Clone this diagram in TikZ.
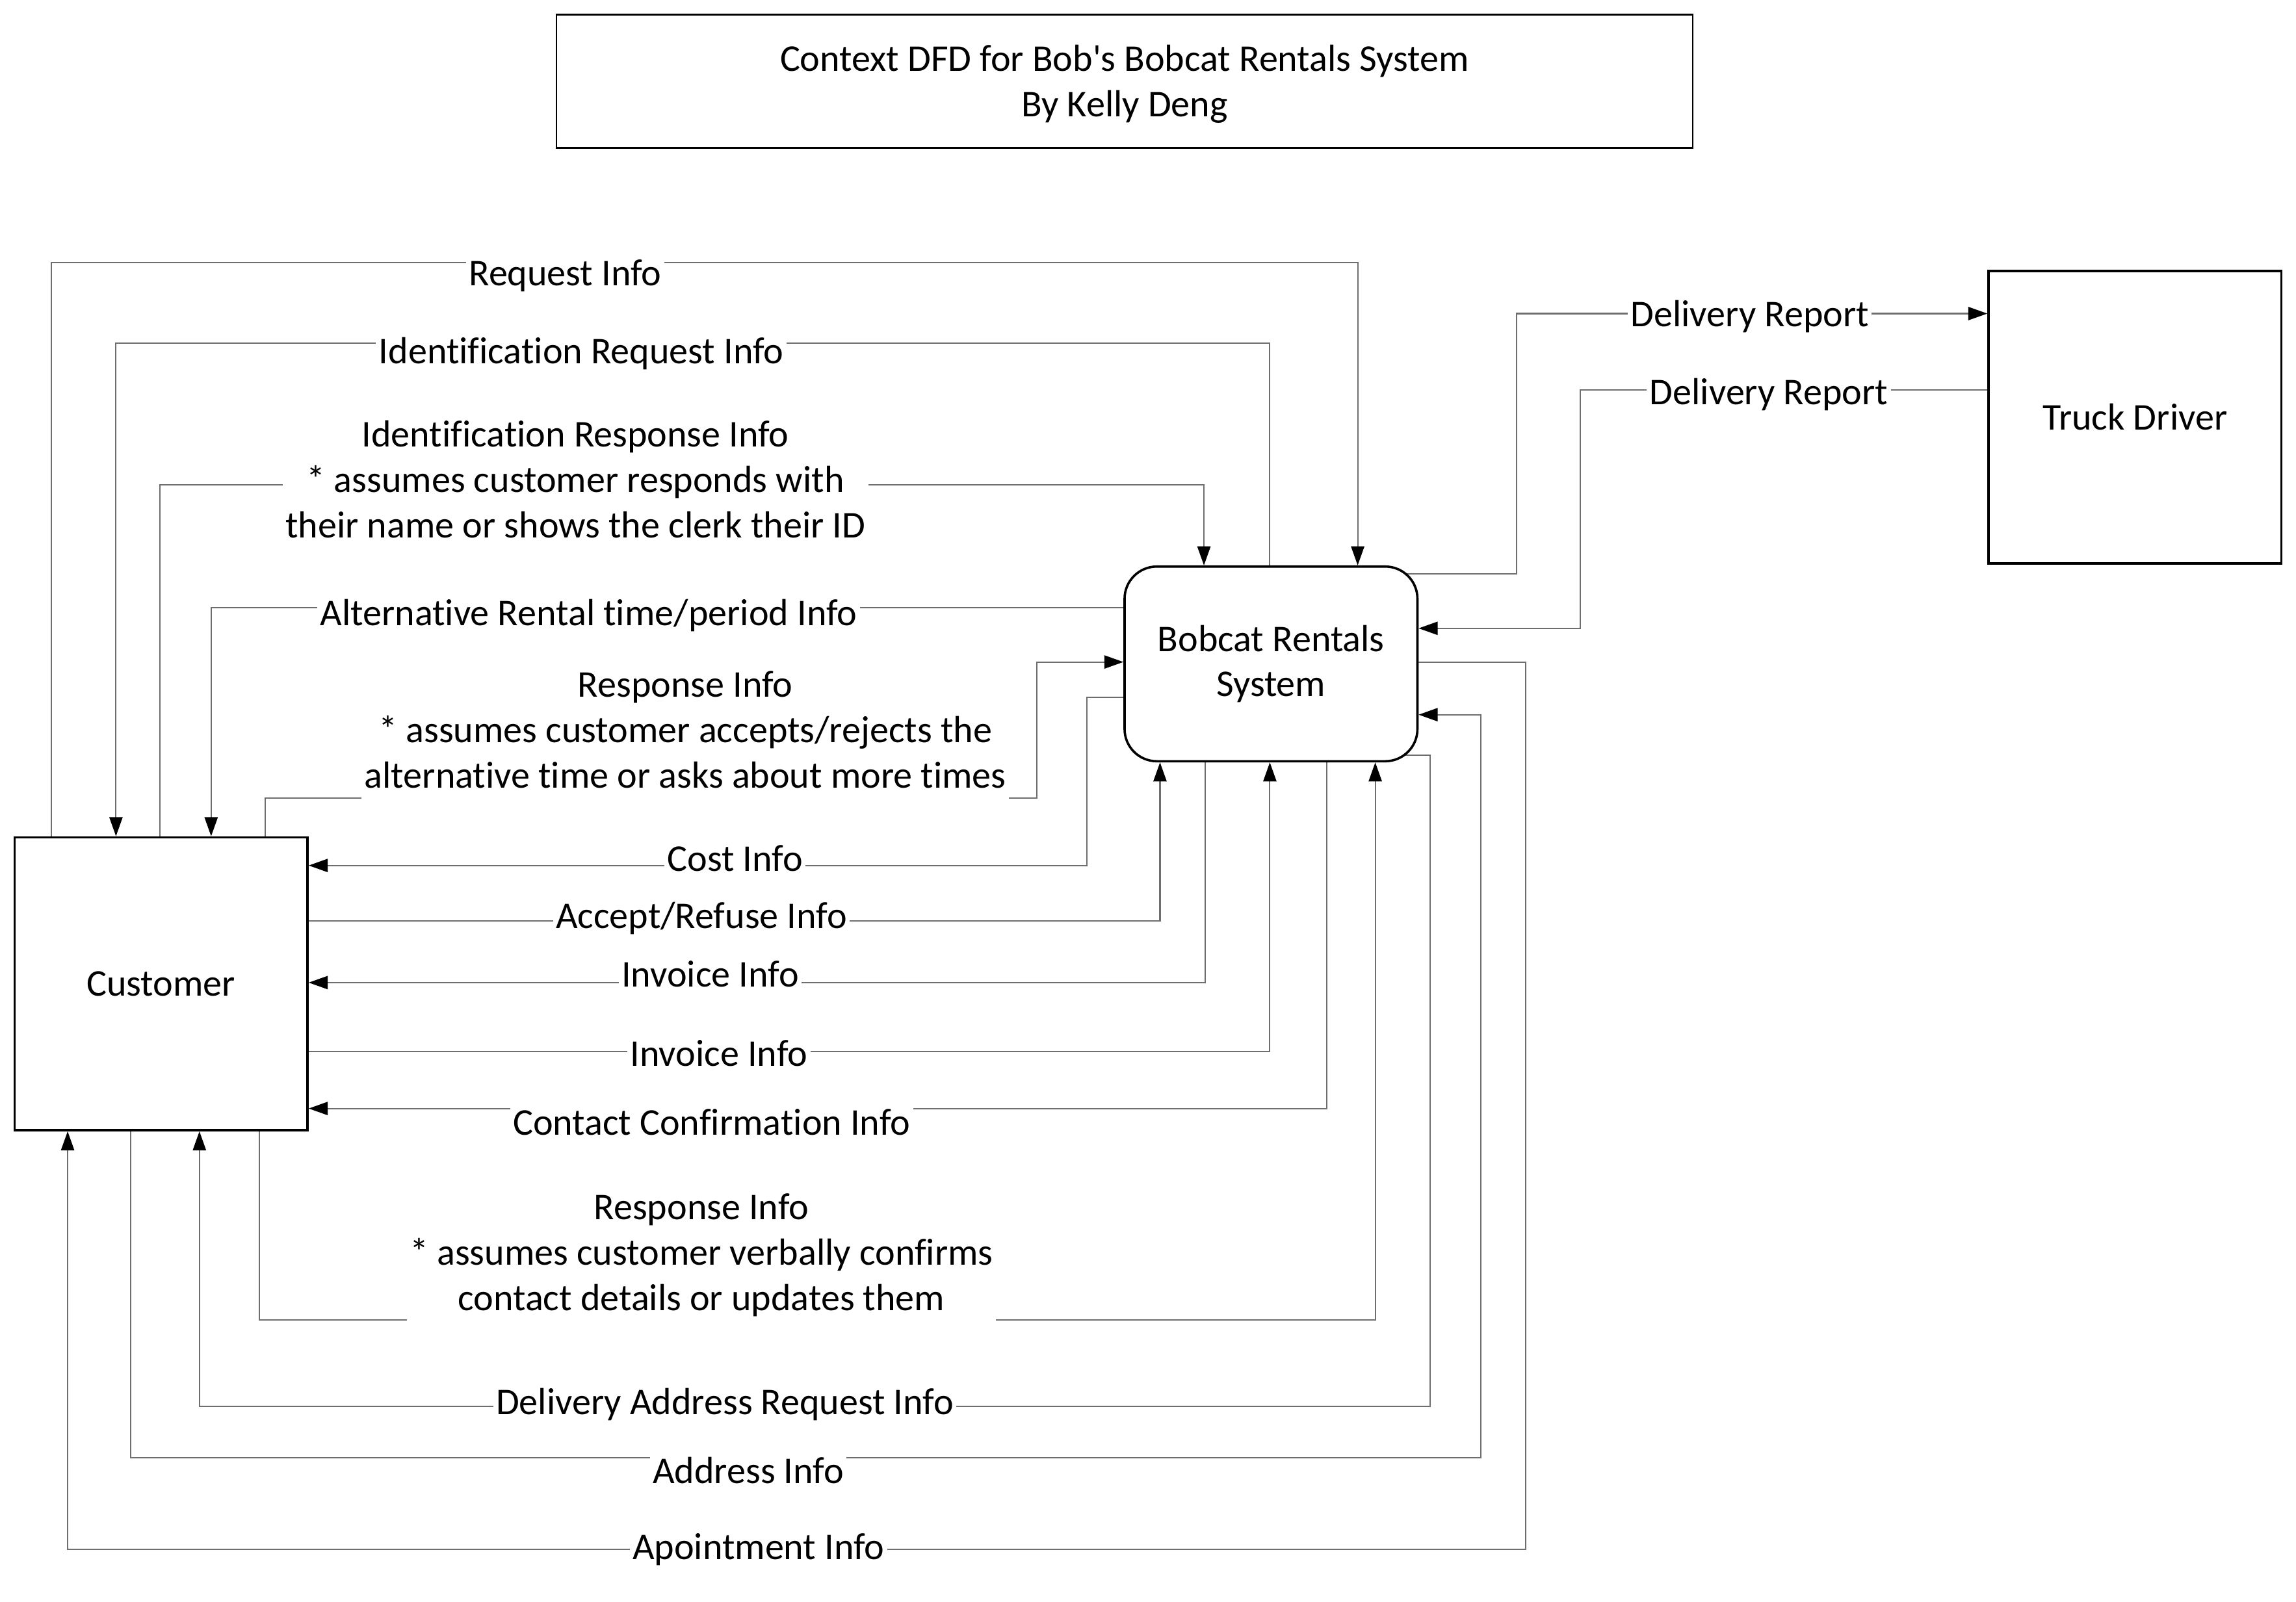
\documentclass[tikz,border=0pt]{standalone}
\usepackage{fontspec}
\setmainfont{Carlito}[Ligatures={NoCommon}]
\newfontfamily\plainq{Carlito}[Ligatures={NoCommon}]
\usetikzlibrary{arrows.meta,calc}
\definecolor{ln}{RGB}{110,110,110}
\pgfdeclarelayer{bg}
\pgfsetlayers{bg,main}
\begin{document}
\begin{tikzpicture}[x=1pt,y=-1pt,
  font=\fontsize{25.8}{31}\selectfont,
  ent/.style={draw=black,line width=1.6pt,fill=white,minimum width=200pt,minimum height=200pt,inner sep=0pt,align=center},
  flow/.style={draw=ln,line width=0.9pt,-{Triangle[length=13pt,width=9pt,color=black]}},
  lbl/.style={fill=white,inner xsep=2pt,inner ysep=0.5pt,text height=21.7pt,text depth=9.3pt,yshift=-2pt},
  mlbl/.style={fill=white,inner xsep=2pt,inner ysep=2pt,align=center,yshift=-2pt},
]
\useasboundingbox (0,0) rectangle (1568,1094);

\node[draw=black,line width=1.2pt,minimum width=776pt,minimum height=91pt,inner sep=0pt] (title) at (768,55.5) {};
\node[align=center,inner sep=0pt] (titletext) at (768,57.5)
  {Context DFD for Bob{\plainq\fontsize{25.8}{31}\selectfont '}s Bobcat Rentals System\\By Kelly Deng};

\node[ent] (cust) at (110,672) {Customer};
\node[ent,rounded corners=22pt,minimum height=133pt] (sys) at (868,453.5) {Bobcat Rentals\\System};
\node[ent] (truck) at (1458,285) {Truck Driver};

\begin{pgfonlayer}{bg}
\fill[white] (0,0) rectangle (1568,1094);
% Request Info
\draw[flow] ($(cust.north west)+(26,0)$) -- ++(0,-392) -| ($(sys.north west)+(160,0)$);
% Identification Request Info
\draw[flow] ($(sys.north west)+(100,0)$) -- ++(0,-152) -| ($(cust.north west)+(70,0)$);
% Identification Response Info
\draw[flow] ($(cust.north west)+(100,0)$) -- ++(0,-240) -| ($(sys.north west)+(55,0)$);
% Alternative Rental
\draw[flow] ($(sys.north west)+(0,29)$) -| ($(cust.north west)+(135,0)$);
% Response Info 1
\draw[flow] ($(cust.north west)+(172,0)$) -- ++(0,-26) -- ++(527,0) |- ($(sys.north west)+(0,66)$);
% Cost Info
\draw[flow] ($(sys.north west)+(0,90)$) -- ++(-25,0) |- ($(cust.north east)+(0,20)$);
% Accept/Refuse
\draw[flow] ($(cust.north east)+(0,58)$) -| ($(sys.south west)+(25,0)$);
% Invoice 1
\draw[flow] ($(sys.south west)+(56,0)$) |- ($(cust.north east)+(0,100)$);
% Invoice 2
\draw[flow] ($(cust.north east)+(0,147)$) -| ($(sys.south west)+(100,0)$);
% Contact Confirmation
\draw[flow] ($(sys.south west)+(139,0)$) |- ($(cust.north east)+(0,186)$);
% Response Info 2
\draw[flow] ($(cust.south west)+(168,0)$) -- ++(0,129) -| ($(sys.south west)+(172,0)$);
% Delivery Address Request
\draw[flow] ($(sys.south east)+(-12,-5)$) -- ++(20,0) -- ++(0,445) -| ($(cust.south west)+(127,0)$);
% Address Info
\draw[flow] ($(cust.south west)+(80,0)$) -- ++(0,223) -- ++(922,0) |- ($(sys.north east)+(0,102)$);
% Apointment Info
\draw[flow] ($(sys.north east)+(0,66)$) -- ++(73,0) -- ++(0,606) -| ($(cust.south west)+(37,0)$);
% Delivery Report to truck
\draw[flow] ($(sys.north east)+(-10,6)$) -- ++(77,0) |- ($(truck.north west)+(0,30)$);
% Delivery Report from truck
\draw[flow] ($(truck.north west)+(0,82)$) -- ++(-278,0) |- ($(sys.north east)+(0,43)$);
\end{pgfonlayer}

\node[lbl] (l1) at (386,187) {Request Info};
\node[lbl] (l2) at (397,240) {Identification Request Info};
\node[mlbl] (l3) at (393,328) {\strut Identification Response Info\\\strut * assumes customer responds with\\\strut their name or shows the clerk their ID};
\node[lbl] (l4) at (402,419) {Alternative Rental time/period Info};
\node[mlbl] (l5) at (468,499) {\strut Response Info\\\strut * assumes customer accepts/rejects the\\\strut alternative time or asks about more times};
\node[lbl] (l6) at (502,587) {Cost Info};
\node[lbl] (l7) at (479,626) {Accept/Refuse Info};
\node[lbl] (l8) at (485,666) {Invoice Info};
\node[lbl] (l9) at (491,720) {Invoice Info};
\node[lbl] (l10) at (486,767) {Contact Confirmation Info};
\node[mlbl] (l11) at (479,856) {\strut Response Info\\\strut * assumes customer verbally confirms\\\strut contact details or updates them};
\node[lbl] (l12) at (495,958) {Delivery Address Request Info};
\node[lbl] (l13) at (511,1005) {Address Info};
\node[lbl] (l14) at (518,1057) {Apointment Info};
\node[lbl] (l15) at (1195,215) {Delivery Report};
\node[lbl] (l16) at (1208,268) {Delivery Report};
\end{tikzpicture}
\end{document}
